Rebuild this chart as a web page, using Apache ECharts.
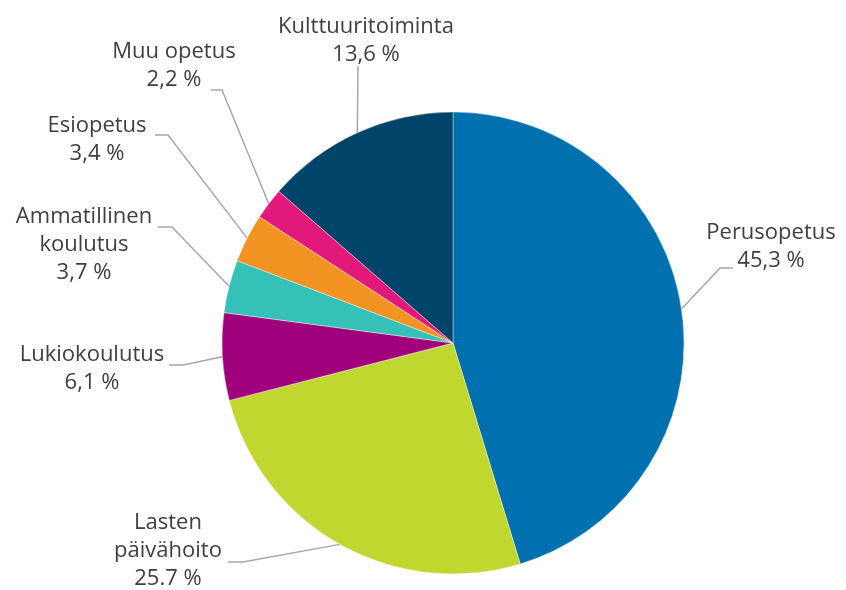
<!DOCTYPE html>
<html>
<head>
<meta charset="utf-8">
<script src="https://cdn.jsdelivr.net/npm/echarts@6/dist/echarts.min.js"></script>
<style>
  html, body { margin: 0; padding: 0; background: #fff; }
  #chart { width: 846px; height: 590px; }
</style>
</head>
<body>
<div id="chart"></div>
<script>
// Categories in clockwise order, starting from 12 o'clock
const categories = [
  'Perusopetus',
  'Lasten\npäivähoito',
  'Lukiokoulutus',
  'Ammatillinen\nkoulutus',
  'Esiopetus',
  'Muu opetus',
  'Kulttuuritoiminta'
];
// Share of spending, %
const shares = [45.3, 25.7, 6.1, 3.7, 3.4, 2.2, 13.6];
// Decimal mark used in each printed value
const decimalMarks = [',', '.', ',', ',', ',', ',', ','];
const colors = ['#0070ae', '#c0d730', '#a0007b', '#35c0b8', '#f39322', '#e2197b', '#004569'];

// Label block centre, elbow and end point of each leader line (pixels)
const labelLayouts = [
  { x: 771, y: 247, elbow: [720, 268], end: [733, 268] },
  { x: 168, y: 551, elbow: [243, 562], end: [228, 562] },
  { x: 92,  y: 369, elbow: [183, 365], end: [169, 365] },
  { x: 84,  y: 245, elbow: [172, 227], end: [158, 227] },
  { x: 97,  y: 140, elbow: [168, 135], end: [155, 135] },
  { x: 174, y: 66,  elbow: [222, 90],  end: [211, 90] },
  { x: 366, y: 41,  elbow: [358, 66],  end: [358, 66] }
];

const chart = echarts.init(document.getElementById('chart'), null, { renderer: 'canvas' });

chart.setOption({
  backgroundColor: '#ffffff',
  animation: false,
  series: [{
    type: 'pie',
    center: [453, 343],
    radius: 231,
    startAngle: 90,
    clockwise: true,
    avoidLabelOverlap: false,
    data: categories.map((name, i) => ({
      name: name,
      value: shares[i],
      itemStyle: { color: colors[i] }
    })),
    itemStyle: { borderColor: '#ffffff', borderWidth: 0.4 },
    label: {
      show: true,
      position: 'outside',
      fontFamily: '"Open Sans", "Liberation Sans", Arial, sans-serif',
      fontSize: 22,
      lineHeight: 28,
      color: '#404040',
      align: 'center',
      formatter: p => {
        const i = p.dataIndex;
        const v = shares[i].toFixed(1).replace('.', decimalMarks[i]);
        return p.name + '\n' + v + ' %';
      }
    },
    labelLine: {
      show: true,
      length: 20,
      length2: 10,
      lineStyle: { color: '#a8a8a8', width: 1.5 }
    },
    labelLayout: params => {
      const L = labelLayouts[params.dataIndex];
      const start = params.labelLinePoints ? params.labelLinePoints[0] : L.elbow;
      return {
        x: L.x,
        y: L.y,
        align: 'center',
        verticalAlign: 'middle',
        labelLinePoints: [start, L.elbow, L.end]
      };
    }
  }]
});
</script>
</body>
</html>
